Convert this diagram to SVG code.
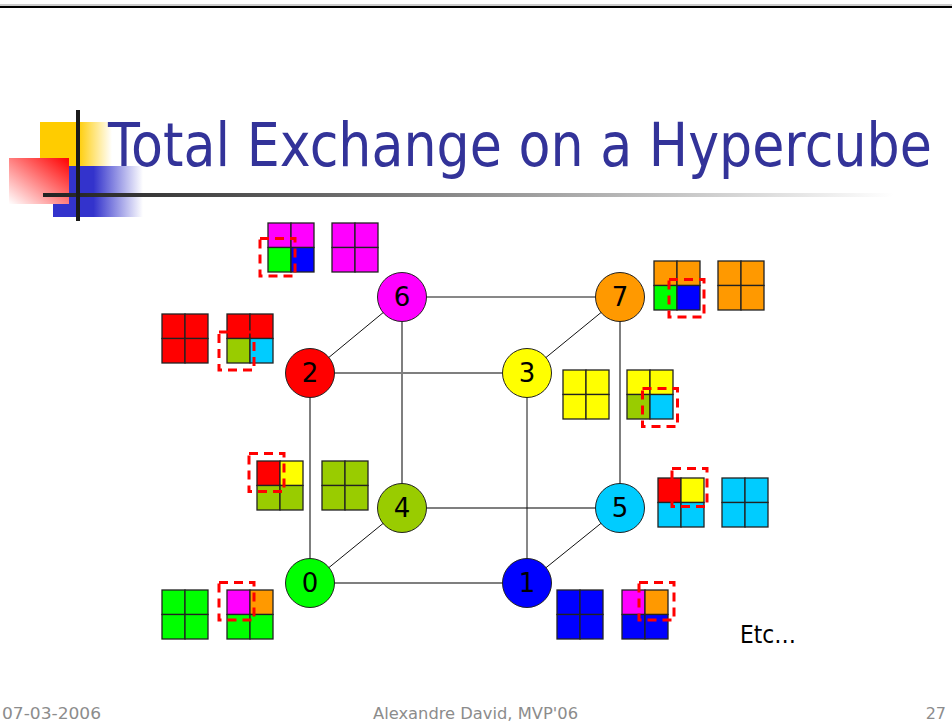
<svg xmlns="http://www.w3.org/2000/svg" width="952" height="724" viewBox="0 0 952 724">
<defs>
  <linearGradient id="gY" x1="0" y1="0" x2="1" y2="0">
    <stop offset="0" stop-color="#ffcc00"/><stop offset="0.52" stop-color="#ffcc00"/><stop offset="1" stop-color="#ffffff"/>
  </linearGradient>
  <linearGradient id="gB" x1="0" y1="0" x2="1" y2="0">
    <stop offset="0" stop-color="#3333cc"/><stop offset="0.45" stop-color="#3333cc"/><stop offset="1" stop-color="#ffffff"/>
  </linearGradient>
  <linearGradient id="gR" x1="1" y1="0" x2="0" y2="1">
    <stop offset="0" stop-color="#ff0000"/><stop offset="1" stop-color="#ffffff"/>
  </linearGradient>
  <linearGradient id="gL" x1="0" y1="0" x2="1" y2="0">
    <stop offset="0" stop-color="#222222"/><stop offset="0.1" stop-color="#333333"/><stop offset="1" stop-color="#ffffff"/>
  </linearGradient>
</defs>
<style>
  .c { stroke: #222; stroke-width: 1.3; }
  .m { fill: #ff00ff; } .g { fill: #00ff00; } .b { fill: #0000ff; } .r { fill: #ff0000; }
  .o { fill: #99cc00; } .cy { fill: #00ccff; } .y { fill: #ffff00; } .or { fill: #ff9900; }
  .dash { fill: none; stroke: #ff0000; stroke-width: 3; stroke-dasharray: 9 6; }
  .node circle { stroke: #222; stroke-width: 1; }
  .node text { font-family: "DejaVu Sans", "Liberation Sans", sans-serif; font-size: 26px; fill: #000; text-anchor: middle; }
  .e1 { stroke: #7f7f7f; stroke-width: 2; }
  .e2 { stroke: #111; stroke-width: 1; }
  .foot { font-family: "DejaVu Sans", "Liberation Sans", sans-serif; font-size: 16px; fill: #8c8c8c; }
</style>

<!-- top rule -->
<rect x="0" y="4.5" width="952" height="1" fill="#999"/>
<rect x="0" y="6" width="952" height="2" fill="#000"/>

<!-- logo -->
<g id="logo">
  <rect x="40" y="122" width="72" height="45" fill="url(#gY)"/>
  <rect x="53" y="166" width="90" height="51" fill="url(#gB)"/>
  <rect x="9" y="158" width="60" height="46" fill="url(#gR)"/>
  <rect x="43" y="193" width="850" height="4" fill="url(#gL)"/>
  <rect x="76" y="110" width="4" height="111" fill="#1a1a1a"/>
</g>

<g id="title" transform="translate(108,166) scale(0.871,1)">
  <text x="0" y="0" font-family="'DejaVu Sans', 'Liberation Sans', sans-serif" font-size="60" fill="#333399">Total Exchange on a Hypercube</text>
</g>

<g id="connectors">
  <line class="e2" x1="402" y1="297" x2="620" y2="297"/>
  <line class="e1" x1="310" y1="373" x2="527" y2="373"/>
  <line class="e1" x1="402" y1="508" x2="620" y2="508"/>
  <line class="e1" x1="310" y1="583" x2="527" y2="583"/>
  <line class="e1" x1="310" y1="373" x2="310" y2="583"/>
  <line class="e1" x1="402" y1="297" x2="402" y2="508"/>
  <line class="e2" x1="527" y1="373" x2="527" y2="583"/>
  <line class="e1" x1="620" y1="297" x2="620" y2="508"/>
  <line class="e2" x1="310" y1="373" x2="402" y2="297"/>
  <line class="e2" x1="527" y1="373" x2="620" y2="297"/>
  <line class="e2" x1="310" y1="583" x2="402" y2="508"/>
  <line class="e2" x1="527" y1="583" x2="620" y2="508"/>
</g>

<g id="node-6" class="node"><circle cx="402" cy="297" r="24.5" fill="#ff00ff"/><text x="402" y="306">6</text></g>
<g id="node-7" class="node"><circle cx="620" cy="297" r="24.5" fill="#ff9900"/><text x="620" y="306">7</text></g>
<g id="node-2" class="node"><circle cx="310" cy="373" r="24.5" fill="#ff0000"/><text x="310" y="382">2</text></g>
<g id="node-3" class="node"><circle cx="527" cy="373" r="24.5" fill="#ffff00"/><text x="527" y="382">3</text></g>
<g id="node-4" class="node"><circle cx="402" cy="508" r="24.5" fill="#99cc00"/><text x="402" y="517">4</text></g>
<g id="node-5" class="node"><circle cx="620" cy="508" r="24.5" fill="#00ccff"/><text x="620" y="517">5</text></g>
<g id="node-0" class="node"><circle cx="310" cy="583" r="24.5" fill="#00ff00"/><text x="310" y="592">0</text></g>
<g id="node-1" class="node"><circle cx="527" cy="583" r="24.5" fill="#0000ff"/><text x="527" y="592">1</text></g>

<!-- data blocks -->
<g id="data-6">
  <g transform="translate(268,223)"><rect class="c m" width="23" height="24.5"/><rect class="c m" x="23" width="23" height="24.5"/><rect class="c g" y="24.5" width="23" height="24.5"/><rect class="c b" x="23" y="24.5" width="23" height="24.5"/></g>
  <rect class="dash" x="260" y="238.5" width="35" height="37.5"/>
  <g transform="translate(332,223)"><rect class="c m" width="23" height="24.5"/><rect class="c m" x="23" width="23" height="24.5"/><rect class="c m" y="24.5" width="23" height="24.5"/><rect class="c m" x="23" y="24.5" width="23" height="24.5"/></g>
</g>
<g id="data-2">
  <g transform="translate(162,314)"><rect class="c r" width="23" height="24.5"/><rect class="c r" x="23" width="23" height="24.5"/><rect class="c r" y="24.5" width="23" height="24.5"/><rect class="c r" x="23" y="24.5" width="23" height="24.5"/></g>
  <g transform="translate(227,314)"><rect class="c r" width="23" height="24.5"/><rect class="c r" x="23" width="23" height="24.5"/><rect class="c o" y="24.5" width="23" height="24.5"/><rect class="c cy" x="23" y="24.5" width="23" height="24.5"/></g>
  <rect class="dash" x="219" y="332" width="35" height="38"/>
</g>
<g id="data-7">
  <g transform="translate(654,261)"><rect class="c or" width="23" height="24.5"/><rect class="c or" x="23" width="23" height="24.5"/><rect class="c g" y="24.5" width="23" height="24.5"/><rect class="c b" x="23" y="24.5" width="23" height="24.5"/></g>
  <rect class="dash" x="669" y="279.5" width="35" height="37.5"/>
  <g transform="translate(718,261)"><rect class="c or" width="23" height="24.5"/><rect class="c or" x="23" width="23" height="24.5"/><rect class="c or" y="24.5" width="23" height="24.5"/><rect class="c or" x="23" y="24.5" width="23" height="24.5"/></g>
</g>
<g id="data-3">
  <g transform="translate(563,370)"><rect class="c y" width="23" height="24.5"/><rect class="c y" x="23" width="23" height="24.5"/><rect class="c y" y="24.5" width="23" height="24.5"/><rect class="c y" x="23" y="24.5" width="23" height="24.5"/></g>
  <g transform="translate(627,370)"><rect class="c y" width="23" height="24.5"/><rect class="c y" x="23" width="23" height="24.5"/><rect class="c o" y="24.5" width="23" height="24.5"/><rect class="c cy" x="23" y="24.5" width="23" height="24.5"/></g>
  <rect class="dash" x="642.5" y="388.5" width="35" height="38"/>
</g>
<g id="data-4">
  <g transform="translate(257,461)"><rect class="c r" width="23" height="24.5"/><rect class="c y" x="23" width="23" height="24.5"/><rect class="c o" y="24.5" width="23" height="24.5"/><rect class="c o" x="23" y="24.5" width="23" height="24.5"/></g>
  <rect class="dash" x="249" y="453.5" width="35" height="38"/>
  <g transform="translate(322,461)"><rect class="c o" width="23" height="24.5"/><rect class="c o" x="23" width="23" height="24.5"/><rect class="c o" y="24.5" width="23" height="24.5"/><rect class="c o" x="23" y="24.5" width="23" height="24.5"/></g>
</g>
<g id="data-5">
  <g transform="translate(658,478)"><rect class="c r" width="23" height="24.5"/><rect class="c y" x="23" width="23" height="24.5"/><rect class="c cy" y="24.5" width="23" height="24.5"/><rect class="c cy" x="23" y="24.5" width="23" height="24.5"/></g>
  <rect class="dash" x="672" y="468.5" width="35" height="38"/>
  <g transform="translate(722,478)"><rect class="c cy" width="23" height="24.5"/><rect class="c cy" x="23" width="23" height="24.5"/><rect class="c cy" y="24.5" width="23" height="24.5"/><rect class="c cy" x="23" y="24.5" width="23" height="24.5"/></g>
</g>
<g id="data-0">
  <g transform="translate(162,590)"><rect class="c g" width="23" height="24.5"/><rect class="c g" x="23" width="23" height="24.5"/><rect class="c g" y="24.5" width="23" height="24.5"/><rect class="c g" x="23" y="24.5" width="23" height="24.5"/></g>
  <g transform="translate(227,590)"><rect class="c m" width="23" height="24.5"/><rect class="c or" x="23" width="23" height="24.5"/><rect class="c g" y="24.5" width="23" height="24.5"/><rect class="c g" x="23" y="24.5" width="23" height="24.5"/></g>
  <rect class="dash" x="219" y="582.5" width="35" height="37.5"/>
</g>
<g id="data-1">
  <g transform="translate(557,590)"><rect class="c b" width="23" height="24.5"/><rect class="c b" x="23" width="23" height="24.5"/><rect class="c b" y="24.5" width="23" height="24.5"/><rect class="c b" x="23" y="24.5" width="23" height="24.5"/></g>
  <g transform="translate(622,590)"><rect class="c m" width="23" height="24.5"/><rect class="c or" x="23" width="23" height="24.5"/><rect class="c b" y="24.5" width="23" height="24.5"/><rect class="c b" x="23" y="24.5" width="23" height="24.5"/></g>
  <rect class="dash" x="639" y="582.5" width="35" height="37.5"/>
</g>

<text x="740" y="643" font-family="'DejaVu Sans', 'Liberation Sans', sans-serif" font-size="25" fill="#000" textLength="56" lengthAdjust="spacingAndGlyphs">Etc…</text>

<text class="foot" x="2" y="719" textLength="99" lengthAdjust="spacingAndGlyphs">07-03-2006</text>
<text class="foot" x="373" y="719" textLength="205" lengthAdjust="spacingAndGlyphs">Alexandre David, MVP'06</text>
<text class="foot" x="946" y="719" text-anchor="end">27</text>
</svg>
